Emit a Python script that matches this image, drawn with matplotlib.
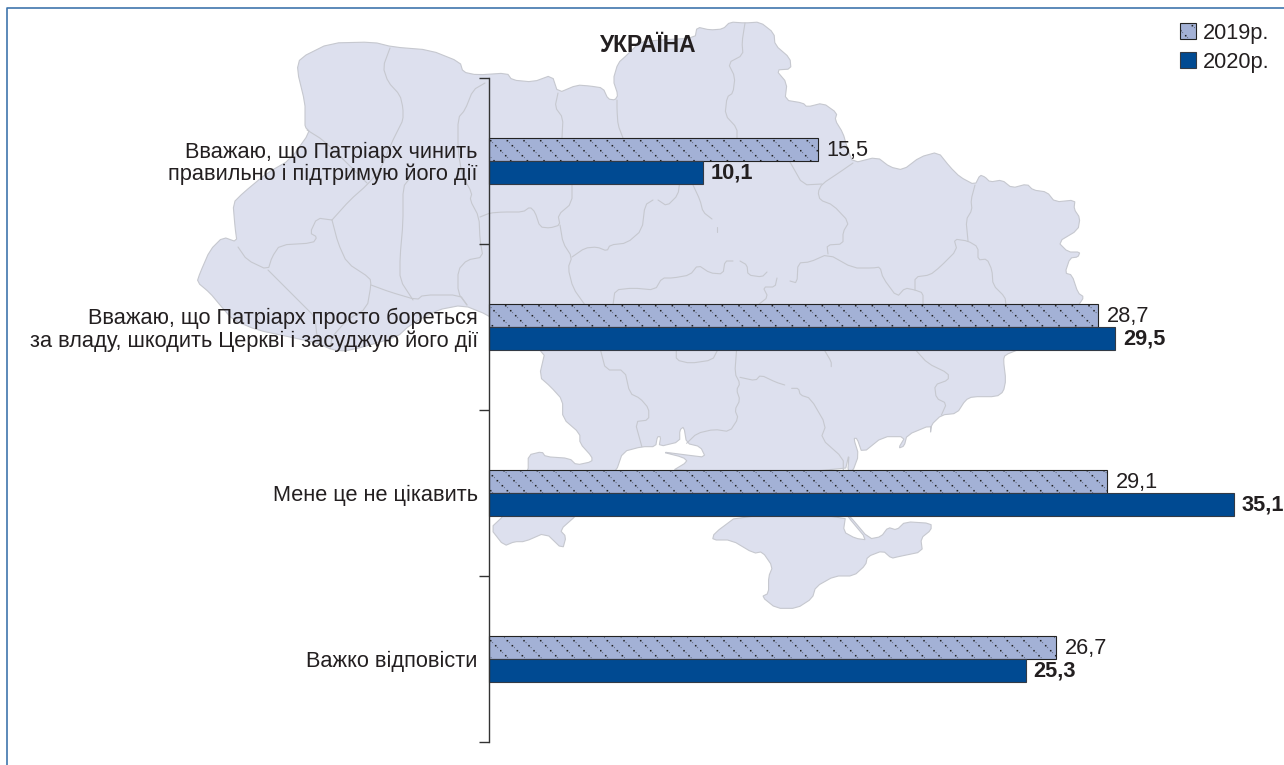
import matplotlib
matplotlib.use("Agg")
import matplotlib.pyplot as plt
import matplotlib.hatch as mhatch
from matplotlib.path import Path
from matplotlib.patches import Polygon
import numpy as np

plt.rcParams['font.family'] = ['Liberation Sans', 'DejaVu Sans']

# ---- data ----
categories = ["Вважаю, що Патріарх чинить\nправильно і підтримую його дії",
              "Вважаю, що Патріарх просто бореться\nза владу, шкодить Церкві і засуджую його дії",
              "Мене це не цікавить",
              "Важко відповісти"]
series_names = ["2019р.", "2020р."]
values_2019 = [15.5, 28.7, 29.1, 26.7]
values_2020 = [10.1, 29.5, 35.1, 25.3]
chart_title = "УКРАЇНА"

TXT = '#231f20'
W, H = 1284, 765
FS = 15.7


def z5(pts):
    return [(480 + x / 2.904, 340 + y / 3) for x, y in pts]


def soften(pts, closed=False):
    p = np.asarray(pts, float)
    q = np.roll(p, -1, axis=0) if closed else p[1:]
    a = p if closed else p[:-1]
    out = np.empty((2 * len(a), 2))
    out[0::2] = 0.8 * a + 0.2 * q
    out[1::2] = 0.2 * a + 0.8 * q
    if not closed:
        out = np.vstack([p[0], out, p[-1]])
    return out


# ---- decorative backdrop: map outline, in figure pixels ----
north_east = [(330,43),(373,42),(393,47),(430,50),(460,62),(463,72),(477,75),(507,73),(512,80),(533,82),
    (552,75),(558,93),(577,85),(590,86),(603,88),(608,99),(615,100),(618,95),(613,80),(618,63),(627,55),
    (640,42),(660,40),(695,38),(697,27),(710,30),(723,29),(730,22),(745,23),(760,22),(774,33),(775,45),
    (790,58),(791,69),(776,70),(787,83),(785,100),(803,103),(807,107),(823,103),(837,113),(835,120),
    (843,133),(847,147),(853,163),(877,157),(890,167),(903,170),(920,157),(938,152),(950,167),(960,177),
    (975,185),(980,175),(985,177),(990,182),(1002,180),(1012,188),(1027,184),(1033,190),(1047,192),
    (1055,202),(1075,200),(1074,209),(1080,218),(1078,230),(1058,242),(1068,252),(1080,252),(1078,257),
    (1070,258),(1065,273),(1072,275),(1078,293),(1084,297),(1078,306),(1060,340),(1020,349),(1005,355)]
south_coast = z5([(1520,60),(1527,120),(1520,155),(1500,170),(1430,170),(1410,180),(1385,220),(1340,225),
    (1310,255),(1308,282),(1310,255),(1240,285),(1232,318),(1215,325),(1235,290),(1170,290),(1110,340),
    (1095,295),(1085,295),(1100,345),(1082,395),(1068,395),(1072,340),(1060,395),(555,395),(603,365),
    (590,352),(525,335),(600,345),(655,352),(640,320),(600,310),(592,260),(580,270),(580,305),(520,320),
    (525,290),(515,290),(510,320),(470,320),(415,335),(395,395),(280,526),(232,570),(250,590),(240,628),
    (190,578),(130,605),(100,605),(70,618),(30,565),(70,526),(140,395),(140,345),(180,335),(190,350),
    (260,355),(280,375),(325,365),(325,350),(290,310),(290,280),(240,235),(240,180),(205,140),(172,110),
    (190,30)])
west_coast = [(488,315),(463,305),(437,310),(410,325),(397,337),(363,347),(345,351),(333,350),(317,343),
    (290,337),(257,330),(233,320),(220,305),(210,293),(197,282),(200,273),(210,250),(223,237),(237,242),
    (235,227),(233,203),(243,193),(267,173),(290,160),(310,132),(305,127),(305,118),(305,103),(297,70),(300,58)]
crimea = z5([(750,526),(680,580),(675,600),(730,600),(795,640),(820,635),(850,680),(838,710),(838,760),
    (818,770),(860,805),(920,805),(965,775),(975,740),(1030,708),(1085,708),(1120,675),(1125,650),(1170,632),
    (1195,655),(1215,650),(1285,635),(1280,595),(1310,570),(1310,550),(1235,545),(1210,570),(1185,562),
    (1165,590),(1130,597),(1072,526),(1065,526),(1125,600),(1090,595),(1055,575),(1062,526)])

borders = [
    [(390,48),(383,67),(388,82),(400,95),(403,108),(403,120),(398,130),(392,142),(380,170),(367,185),(350,200),(332,220)],
    [(307,130),(323,140),(347,163),(367,183)],
    [(485,83),(473,90),(465,110),(458,118),(458,150),(462,175),(472,193),(470,200),(479,217),(480,240),(483,257),(467,260),(458,270),(458,293),(467,305)],
    [(480,217),(490,213),(503,212),(523,212),(530,207),(535,212),(540,227),(550,228),(560,225),(558,215),(572,203),(572,180)],
    [(560,225),(563,243),(572,257),(568,268),(573,288),(585,305)],
    [(572,257),(585,248),(597,247),(607,251),(610,245),(627,243),(642,230),(645,205),(653,200)],
    [(658,200),(667,206),(678,195),(680,180)],
    [(693,185),(700,200),(703,212),(712,219)],
    [(717,227),(717,232)],
    [(613,305),(615,290),(633,288),(655,290),(662,278),(673,278),(690,275),(698,265),(710,273),(723,274),(725,261),(733,261)],
    [(740,261),(747,265),(748,275),(762,277),(767,272)],
    [(777,278),(775,287),(763,287),(768,297),(758,305)],
    [(790,281),(797,283),(798,263),(810,262),(828,254),(853,268),(873,268),(880,267),(883,278),(897,297),(905,288),(915,290),(923,293),(923,305)],
    [(915,290),(915,277),(930,275),(940,267),(957,250),(954,239),(968,241),(978,247),(978,260),(987,259),(992,270),(993,285),(1005,297),(1006,305)],
    [(968,241),(966,220),(972,210),(971,200),(975,185)],
    [(828,254),(827,245),(843,244),(843,232),(849,222),(833,205),(820,200),(818,192),(822,184),(840,172),(853,163)],
    [(822,184),(803,185),(790,162)],
    [(745,23),(742,42),(743,55),(728,63),(735,77),(733,93),(727,97),(725,115),(737,128),(737,140)],
    [(617,100),(617,110),(618,125),(623,138)],
    [(558,93),(555,107),(563,118),(562,138)],
    [(332,220),(317,218),(310,233),(317,237),(313,243),(280,245),(272,257),(268,270),(247,260),(238,247)],
    [(268,270),(290,292),(300,302),(315,317),(317,337),(322,345)],
    [(332,220),(338,243),(347,263),(370,278),(371,285),(367,308),(347,320),(332,337),(330,349)],
    [(371,285),(390,292),(417,300),(423,295),(460,295),(467,305)],
    [(410,178),(403,187),(403,223),(400,257),(400,280),(413,300)],
    z5([(350,30),(365,90),(420,90),(435,160),(465,175),(490,205),(490,240),(450,245),(470,320)]),
    z5([(570,30),(570,60),(610,70),(675,60),(690,30)]),
    z5([(745,30),(740,100),(755,130),(745,150),(755,180),(740,210),(750,235),(725,275),(680,268),(630,280),(600,310)]),
    z5([(755,112),(800,122),(815,105),(860,127),(885,135)]),
    z5([(905,145),(925,145),(930,165),(960,175),(1005,255),(990,295),(1055,355),(1055,392)]),
    z5([(1000,30),(1020,65),(1020,80)]),
    z5([(1265,30),(1300,70),(1360,100),(1360,120),(1320,135),(1325,175),(1355,190),(1340,225)]),
]


# ---- dotted diagonal hatch: strong dots joined by fainter ones ----
class DotDiagonal(mhatch.HatchPatternBase):
    filled = True
    rows = 40
    lines = 6

    def __init__(self, hatch, density):
        self.num_vertices = self.rows * self.lines * 5 if '.' in hatch else 0

    def set_vertices_and_codes(self, vertices, codes):
        k = 0
        for j in range(self.rows):
            s = 0.014 if j % 2 == 0 else 0.005
            for i in range(self.lines):
                x = (i / self.lines + j / self.rows) % 1.0
                y = 1 - j / self.rows - s
                vertices[k:k + 5] = [(x, y), (x + s, y), (x + s, y + s), (x, y + s), (x, y)]
                codes[k:k + 5] = [Path.MOVETO, Path.LINETO, Path.LINETO, Path.LINETO, Path.CLOSEPOLY]
                k += 5


mhatch._hatch_types = [DotDiagonal]
plt.rcParams['hatch.linewidth'] = 0.1

fig = plt.figure(figsize=(W / 100, H / 100), dpi=100, facecolor='white')

bg = fig.add_axes([0, 0, 1, 1], zorder=0)
bg.set_xlim(0, W)
bg.set_ylim(H, 0)
bg.axis('off')
MAP_FILL, MAP_EDGE = '#dde0ee', '#c6c8cf'
bg.add_patch(Polygon(soften(north_east + south_coast + west_coast, closed=True), closed=True,
                     fc=MAP_FILL, ec=MAP_EDGE, lw=0.8))
bg.add_patch(Polygon(soften(crimea, closed=True), closed=True, fc=MAP_FILL, ec=MAP_EDGE, lw=0.8))
for b in borders:
    pts = soften(b)
    bg.plot(pts[:, 0], pts[:, 1], color=MAP_EDGE, lw=0.8, solid_capstyle='round')
# frame
bg.plot([6.5, 6.5, W], [H, 7.5, 7.5], color='#3f76ad', lw=1.2)

# ---- chart ----
x0, x1, y0, y1 = 488.7, 1234.0, 78.0, 742.0
ax = fig.add_axes([x0 / W, 1 - y1 / H, (x1 - x0) / W, (y1 - y0) / H], zorder=1)
ax.patch.set_visible(False)
ax.set_xlim(0, max(values_2020))
ax.set_ylim(len(categories), 0)
for s in ('top', 'right', 'bottom'):
    ax.spines[s].set_visible(False)
ax.spines['left'].set_color('#333333')
ax.spines['left'].set_linewidth(1.0)
ax.xaxis.set_visible(False)

y = np.arange(len(categories)) + 0.5
h = 23 / 166
b1 = ax.barh(y - h / 2, values_2019, height=h, color='#a3b1d6', edgecolor='#222222', linewidth=0.8,
             hatch='.', label=series_names[0], clip_on=False)
b2 = ax.barh(y + h / 2, values_2020, height=h, color='#004a92', edgecolor='#333a45', linewidth=0.8,
             label=series_names[1], clip_on=False)

ax.set_yticks(np.arange(len(categories) + 1))
ax.set_yticklabels([])
ax.tick_params(axis='y', which='major', length=7.2, width=1.0, color='#333333')
ax.set_yticks(y, minor=True)
ax.set_yticklabels(categories, minor=True, fontsize=FS, color=TXT, ha='right', linespacing=1.04)
ax.tick_params(axis='y', which='minor', length=0, pad=7.8)

for yy, v in zip(y - h / 2, values_2019):
    ax.annotate(f"{v:.1f}".replace('.', ','), (v, yy), xytext=(6.5, -1), textcoords='offset points',
                va='center', ha='left', fontsize=FS, color=TXT, annotation_clip=False)
for yy, v in zip(y + h / 2, values_2020):
    ax.annotate(f"{v:.1f}".replace('.', ','), (v, yy), xytext=(5.6, -0.5), textcoords='offset points',
                va='center', ha='left', fontsize=FS, fontweight='bold', color=TXT, annotation_clip=False)

fig.text(648.5 / W, 1 - 46 / H, chart_title, ha='center', va='center', fontsize=16.4, fontweight='bold',
         color=TXT, zorder=5)

leg = ax.legend(handles=[b1, b2], loc='upper left', bbox_to_anchor=(1180 / W, 1 - 23 / H),
                bbox_transform=fig.transFigure, frameon=False, fontsize=FS, handlelength=0.75,
                handleheight=0.75, handletextpad=0.32, labelspacing=0.36, borderpad=0, borderaxespad=0,
                labelcolor=TXT)

fig.savefig('out.png', dpi=100)
